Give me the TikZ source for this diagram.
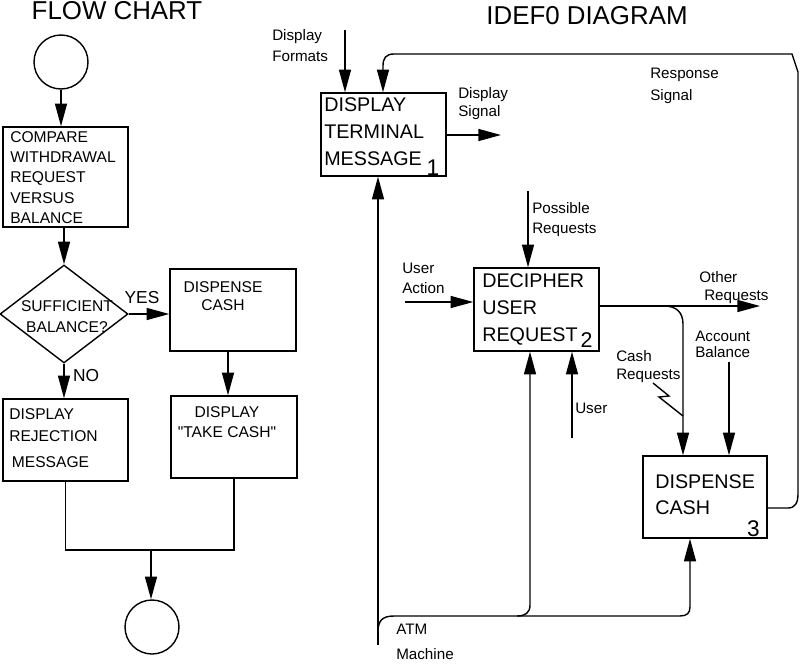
\documentclass[tikz,border=0pt]{standalone}
\usepackage{fontspec}
\setmainfont{Liberation Sans}[Ligatures=TeXOff]
\usetikzlibrary{arrows.meta,shapes.geometric}
\newcommand\ttlfont{\fontsize{19.4pt}{23pt}\selectfont}
\newcommand\ynfont{\fontsize{13pt}{15pt}\selectfont}
\newcommand\numfont{\fontsize{17pt}{17pt}\selectfont}
\begin{document}
\begin{tikzpicture}[x=0.75pt,y=-0.75pt,
  ln/.style={line width=1.05pt},
  arr/.style={ln,-{Triangle[length=17pt,width=9pt]}},
  box/.style={draw,ln,rectangle,inner sep=0pt},
  sz/.style 2 args={minimum width={#1*0.75pt},minimum height={#2*0.75pt}},
  txt/.style={inner sep=0pt,align=left,anchor=west},
  ctxt/.style={inner sep=0pt,align=center},
  fc/.style={font=\fontsize{11.7pt}{#1}\selectfont},
  idb/.style={font=\fontsize{14.8pt}{#1}\selectfont},
  lbl/.style={txt,font=\fontsize{11.4pt}{#1}\selectfont},
]
\useasboundingbox (0,0) rectangle (800,664);

% ---------------- FLOW CHART ----------------
\node[font=\ttlfont,inner sep=0pt] (ttl1) at (117,11) {FLOW CHART};
\node[draw,ln,circle,inner sep=0pt,minimum size={54*0.75pt}] (c1) at (61,62) {};
\node[box,sz={125}{100}] (b1) at (65.5,177) {};
\node[txt,fc=15.2pt] (tb1) at (10,177.5) {COMPARE\\WITHDRAWAL\\REQUEST\\VERSUS\\BALANCE};
\node[draw,ln,diamond,inner sep=0pt,sz={128}{98}] (d) at (64,314) {};
\node[ctxt,fc=15.75pt] (td) at (67,316.5) {SUFFICIENT\\BALANCE?};
\node[box,sz={126}{82}] (b2) at (233,310) {};
\node[ctxt,fc=13.5pt] (tb2) at (223,296) {DISPENSE\\CASH};
\node[box,sz={126}{82}] (b3) at (234,437) {};
\node[ctxt,fc=15pt] (tb3) at (227,422) {DISPLAY\\"TAKE CASH"};
\node[box,sz={125}{82}] (b4) at (65.5,440) {};
\node[txt,fc=15pt] (tb4) at (9,438) {DISPLAY\\[1.5pt]REJECTION\\[4.5pt]\hspace*{2pt}MESSAGE};
\node[draw,ln,circle,inner sep=0pt,minimum size={54*0.75pt}] (c2) at (152,627) {};
\node[font=\ynfont,inner sep=0pt] (yes) at (142,298) {YES};
\node[font=\ynfont,inner sep=0pt] (no) at (86,376) {NO};

\draw[arr] (c1.south) -- (c1.south |- b1.north);
\draw[arr] (b1.south -| d.north) -- (d.north);
\draw[arr] (d.east) -- (d.east -| b2.west);
\draw[arr] (d.south) -- (d.south |- b4.north);
\coordinate (kx) at (228,0);
\draw[arr] (b2.south -| kx) -- (b3.north -| kx);
\coordinate (j) at (151,550);
\draw[ln] (b4.south) |- (j) -| (b3.south);
\draw[arr] (j) -- (j |- c2.north);

% ---------------- IDEF0 ----------------
\node[font=\ttlfont,inner sep=0pt] (ttl2) at (587,16) {IDEF0 DIAGRAM};

\node[box,sz={125}{83}] (A1) at (383.5,134.5) {};
\node[txt,idb=20.25pt] (tA1) at (324,132) {DISPLAY\\TERMINAL\\MESSAGE};
\node[font=\numfont,inner sep=0pt] (n1) at (433,168) {1};

\node[box,sz={125}{83}] (A2) at (536.5,309.5) {};
\node[txt,idb=20.6pt] (tA2) at (482,309.5) {DECIPHER\\USER\\REQUEST};
\node[font=\fontsize{16pt}{16pt}\selectfont,inner sep=0pt] (n2) at (586.5,340.5) {2};

\node[box,sz={124}{82}] (A3) at (705,497) {};
\node[txt,idb=19.5pt] (tA3) at (655,495) {DISPENSE\\CASH};
\node[font=\numfont,inner sep=0pt] (n3) at (753.5,528.5) {3};

\node[lbl=15.75pt] (lDF) at (272,45.5) {Display\\Formats};
\node[lbl=13.5pt] (lDS) at (458,104) {Display\\Signal};
\node[lbl=16.5pt] (lRS) at (650,86) {Response\\Signal};
\node[lbl=15pt] (lPR) at (532,220) {Possible\\Requests};
\node[lbl=15pt] (lUA) at (402,278) {User\\Action};
\node[lbl=13.5pt] (lOR) at (699,288) {Other\\\hspace*{3.75pt}Requests};
\node[lbl=13.5pt] (lCR) at (616,367) {Cash\\Requests};
\node[lbl=12pt] (lAB) at (695,344) {Account\\Balance};
\node[lbl=13pt] (lU) at (575,408) {User};
\node[lbl=18.75pt] (lATM) at (396,642) {ATM\\Machine};

\coordinate (dfs) at (345,30);
\draw[arr] (dfs) -- (dfs |- A1.north);
\coordinate (ro) at (767,508);
\coordinate (rsx) at (383,0);
\draw[arr] (ro -| A3.east) -- (788,508) .. controls (795,508) and (798,503) .. (798,494)
  -- (798,72) -- (792,54) -- (394,54) .. controls (386,54) and (383,58) .. (383,66)
  -- (A1.north -| rsx);
\coordinate (dse) at (501,135);
\draw[arr] (dse -| A1.east) -- (dse);
\coordinate (prs) at (528,191);
\draw[arr] (prs) -- (prs |- A2.north);
\coordinate (uas) at (405,302);
\draw[arr] (uas) -- (uas -| A2.west);
\coordinate (ore) at (760,306);
\draw[arr] (ore -| A2.east) -- (ore);
\coordinate (crb) at (664,306);
\coordinate (crx) at (683,0);
\draw[arr] (crb) .. controls (676,306) and (683,312) .. (683,324) -- (A3.north -| crx);
\draw[ln] (653,383) -- (669,396) -- (659,397) -- (683,416);
\coordinate (abs) at (729,362);
\draw[arr] (abs) -- (abs |- A3.north);
\coordinate (us) at (572,438);
\draw[arr] (us) -- (us |- A2.south);
\coordinate (m0) at (378,645);
\draw[arr] (m0) -- (m0 |- A1.south);
\coordinate (m1) at (378,632);
\coordinate (m2x) at (530,0);
\coordinate (m3x) at (690,0);
\coordinate (mj) at (517,616);
\draw[arr] (m1) .. controls (378,621) and (382,616) .. (394,616) -- (mj)
  .. controls (525,616) and (530,613) .. (530,605) -- (A2.south -| m2x);
\draw[arr] (mj) -- (680,616) .. controls (687,616) and (690,613) .. (690,607) -- (A3.south -| m3x);
\end{tikzpicture}
\end{document}
